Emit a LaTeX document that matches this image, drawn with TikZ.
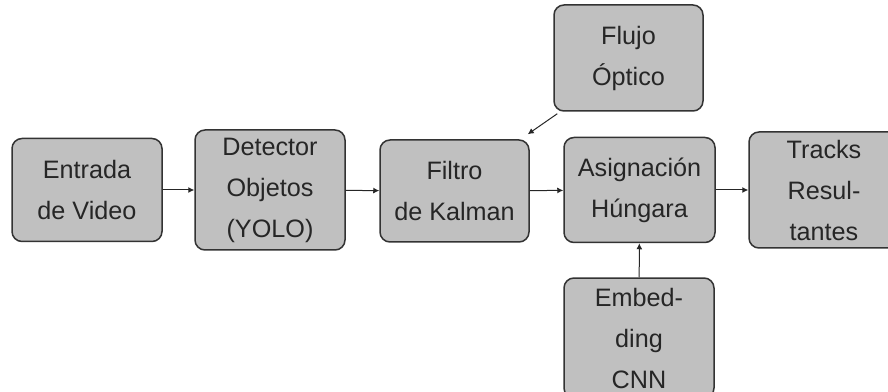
\documentclass[tikz,border=0pt]{standalone}
\usepackage{fontspec}
\setmainfont{Liberation Sans}
\usepackage{tikz}
\usetikzlibrary{arrows.meta, positioning, calc}
\definecolor{boxgray}{HTML}{C0C0C0}
\definecolor{edgegray}{HTML}{333333}

\begin{document}
\begin{tikzpicture}[
  x=0.5pt, y=0.5pt,
  font=\fontsize{12.6}{20.5}\selectfont,
  >=Latex,
  box/.style={draw=edgegray,line width=0.75pt,fill=boxgray,rounded corners=5pt,align=center,text=black!85,inner sep=0pt,minimum width=75pt},
  arr/.style={-{Latex[length=3pt,width=3pt]},line width=0.5pt,draw=black!85}
]
\useasboundingbox (0,0) rectangle (888,391);
\clip (0,0) rectangle (888,391);
\node[box,minimum height=51.5pt] (entrada) at (87,201) {Entrada\\de Video};
\node[box,minimum height=60pt] (detector) at (270,201) {Detector\\Objetos\\(YOLO)};
\node[box,minimum height=51pt,minimum width=74.5pt] (filtro) at (454.5,200) {Filtro\\de Kalman};
\node[box,minimum height=52.5pt,minimum width=75.5pt] (asignacion) at (639.5,201) {Asignación\\Húngara};
\node[box,minimum height=58pt] (tracks) at (824,201) {Tracks\\Resul-\\tantes};
\node[box,minimum height=53pt,minimum width=74.5pt] (flujo) at (628.5,333) {Flujo\\Óptico};
\node[box,minimum height=60pt] (embedding) at (639,53) {Embed-\\ding\\CNN};

\draw[arr] (entrada) -- (detector);
\draw[arr] (detector) -- (filtro);
\draw[arr] (filtro) -- (asignacion);
\draw[arr] (asignacion) -- (tracks);
\draw[arr] ([shift={(4,-2)}]flujo.south west) -- ([shift={(-2,5)}]filtro.north east);
\draw[arr] (embedding) -- (asignacion);
\end{tikzpicture}
\end{document}
